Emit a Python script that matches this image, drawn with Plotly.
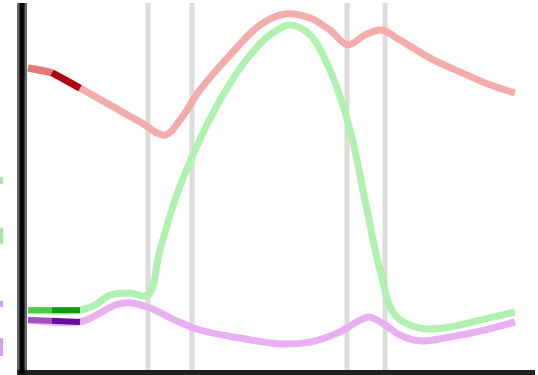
import plotly.graph_objects as go

# x positions (time index) and series values
red_x = [6, 28, 58, 88, 118, 143, 158, 178, 208, 238, 263, 288, 308, 326, 343, 360, 378, 408, 438, 468, 493]
red_y = [82.3, 81.2, 76.8, 72.2, 67.6, 64.0, 68.1, 76.3, 85.8, 94.0, 97.0, 95.9, 92.6, 88.6, 91.3, 92.6, 89.9, 85.0, 81.2, 77.7, 75.5]

green_x = [6, 58, 73, 88, 108, 126, 138, 153, 173, 198, 228, 248, 268, 288, 308, 328, 343, 358, 373, 398, 428, 458, 493]
green_y = [16.3, 16.3, 17.7, 20.4, 21.0, 20.4, 32.7, 46.3, 59.9, 73.6, 85.8, 91.3, 94.0, 91.3, 81.7, 65.4, 46.3, 27.2, 15.0, 11.4, 11.7, 13.6, 15.8]

purple_x = [6, 58, 78, 93, 108, 128, 153, 178, 218, 258, 288, 318, 338, 348, 363, 378, 398, 428, 458, 493]
purple_y = [13.6, 13.1, 15.5, 17.7, 18.3, 16.9, 13.6, 10.9, 8.7, 7.1, 7.6, 10.4, 13.6, 14.4, 12.3, 9.5, 7.9, 9.0, 10.6, 13.1]

# highlighted (darker) start segments
hl_x = [6, 30, 58]
red_hl = [82.3, 81.0, 76.8]
green_hl = [16.3, 16.3, 16.3]
purple_hl = [13.6, 13.4, 13.1]

event_x = [126, 170, 325, 363]

X_RANGE = [5, 513]
Y_RANGE = [0, 100]

fig = go.Figure()

for xv in event_x:
    fig.add_shape(type="line", xref="x", yref="y", x0=xv, x1=xv, y0=0, y1=101,
                  line=dict(color="#dcdcdc", width=5), layer="below")

def add_line(x, y, color, width=7):
    fig.add_trace(go.Scatter(x=x, y=y, mode="lines",
                             line=dict(color=color, width=width, shape="spline", smoothing=1.0),
                             showlegend=False, hoverinfo="skip"))

add_line(red_x, red_y, "#f4abab")
add_line(green_x, green_y, "#b0f0b0")
add_line(purple_x, purple_y, "#e8b0f0")

# dark start segments (gradient approximated by two pieces)
add_line(hl_x[:2], red_hl[:2], "#e07878", 7)
add_line(hl_x[1:], red_hl[1:], "#b00010", 7)
add_line(hl_x[:2], green_hl[:2], "#50c850", 6)
add_line(hl_x[1:], green_hl[1:], "#109a10", 6)
add_line(hl_x[:2], purple_hl[:2], "#a050c0", 6)
add_line(hl_x[1:], purple_hl[1:], "#6a0aa0", 6)

# unreadable coloured fragments at the left edge (cut-off labels in the reference)
frag = [((0.507, 0.526), "#60cc60"), ((0.343, 0.387), "#60cc60"),
        ((0.172, 0.188), "#b050e0"), ((0.038, 0.087), "#b050e0")]
for (y0, y1), col in frag:
    fig.add_shape(type="rect", xref="paper", yref="paper", x0=-27 / 508, x1=-24 / 508,
                  y0=y0, y1=y1, fillcolor=col, line=dict(width=0), opacity=0.55)

# black core of the y axis line
fig.add_shape(type="line", xref="paper", yref="paper", x0=-5 / 508, x1=-5 / 508, y0=-0.01, y1=1.0,
              line=dict(color="#050505", width=5))

fig.update_xaxes(range=X_RANGE, showgrid=False, zeroline=False, showticklabels=False, ticks="",
                 showline=True, linecolor="#222222", linewidth=5)
fig.update_yaxes(range=Y_RANGE, showgrid=False, zeroline=False, showticklabels=False, ticks="",
                 showline=True, linecolor="#666666", linewidth=10)

fig.update_layout(width=538, height=375, margin=dict(l=27, r=3, t=3, b=5),
                  plot_bgcolor="white", paper_bgcolor="white", showlegend=False)

fig.write_html("out.html", config={"displayModeBar": False},
               post_script="document.body.style.margin='0';")
